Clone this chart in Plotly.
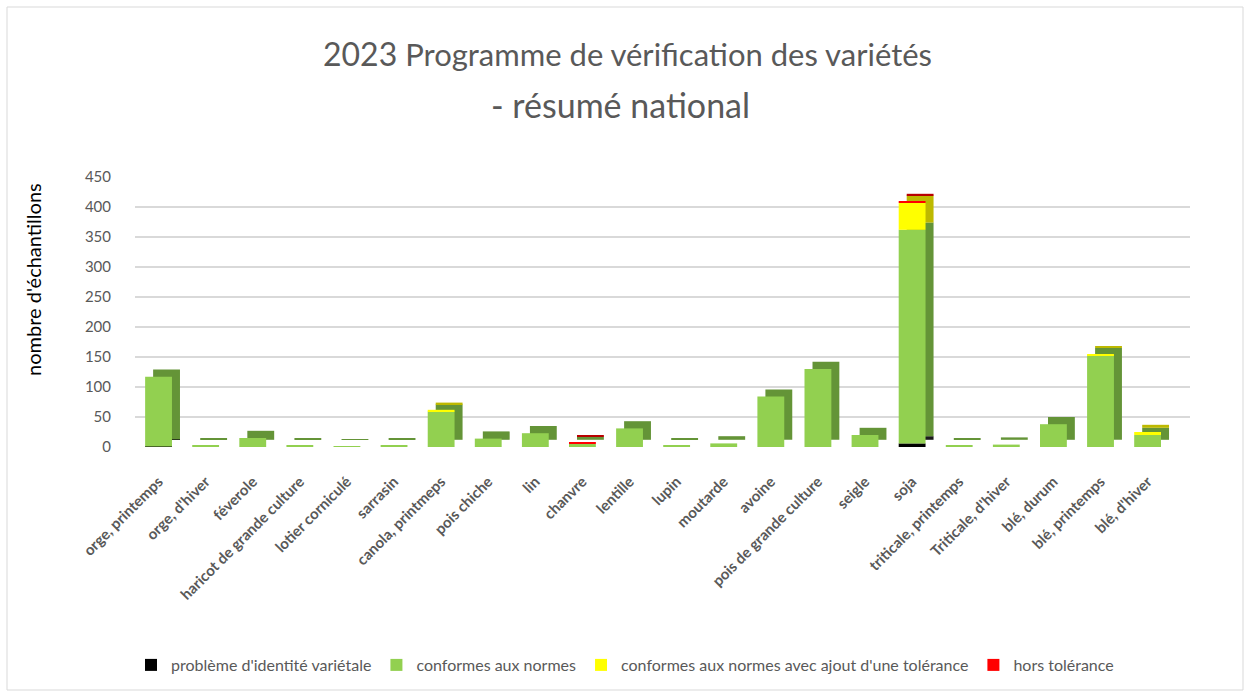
import plotly.graph_objects as go
import numpy as np

categories = ["orge, printemps", "orge, d'hiver", "féverole", "haricot de grande culture",
              "lotier corniculé", "sarrasin", "canola, printmeps", "pois chiche", "lin",
              "chanvre", "lentille", "lupin", "moutarde", "avoine", "pois de grande culture",
              "seigle", "soja", "triticale, printemps", "Triticale, d'hiver", "blé, durum",
              "blé, printemps", "blé, d'hiver"]
identite = [1, 0, 0, 0, 0, 0, 0, 0, 0, 0, 0, 0, 0, 0, 0, 0, 6, 0, 0, 0, 0, 0]
conformes = [116, 3, 15, 2, 1, 2, 59, 14, 23, 5, 31, 2, 6, 84, 130, 20, 356, 2, 4, 38, 153, 20]
tolerance = [0, 0, 0, 0, 0, 0, 3, 0, 0, 0, 0, 0, 0, 0, 0, 0, 45, 0, 0, 0, 2, 5]
hors = [0, 0, 0, 0, 0, 0, 0, 0, 0, 3, 0, 0, 0, 0, 0, 0, 3, 0, 0, 0, 0, 0]

series = [
    ("problème d'identité variétale", identite, "#000000", "#1a1a1a"),
    ("conformes aux normes", conformes, "#92D050", "#649437"),
    ("conformes aux normes avec ajout d'une tolérance", tolerance, "#FFFF00", "#BDB900"),
    ("hors tolérance", hors, "#FF0000", "#B80000"),
]

W = 0.57
DX = 0.17
DEPTH = 12

fig = go.Figure()
bases = []
cum = np.zeros(len(categories))
for name, vals, c, dc in series:
    bases.append(cum.copy())
    cum = cum + np.array(vals)

# depth (side/top faces)
for (name, vals, c, dc), b in zip(series, bases):
    fig.add_trace(go.Bar(x=categories, y=vals, base=b + DEPTH, width=W, offset=-W / 2 + DX,
                         marker=dict(color=dc, line=dict(width=0)), showlegend=False,
                         hoverinfo="skip"))
# front faces
for (name, vals, c, dc), b in zip(series, bases):
    fig.add_trace(go.Bar(x=categories, y=vals, base=b, width=W, offset=-W / 2, name=name,
                         marker=dict(color=c, line=dict(width=0))))

font = "Lato, 'Open Sans', sans-serif"
fig.update_layout(
    width=1250, height=692,
    barmode="overlay",
    paper_bgcolor="white", plot_bgcolor="white",
    margin=dict(l=135, r=60, t=177, b=245, autoexpand=False),
    title=dict(text="<span style='font-size:32px'>2023</span> Programme de vérification des variétés",
               x=627.5 / 1250, xref="container", xanchor="center",
               yref="container", y=1 - 55 / 692, yanchor="middle",
               font=dict(family=font, size=31, color="#595959")),
    annotations=[
        dict(text="- résumé national", xref="paper", yref="paper",
             x=(620 - 135) / 1055, y=(447 - 104) / 270, xanchor="center", yanchor="middle",
             showarrow=False, font=dict(family=font, size=34, color="#595959")),
        dict(text="nombre d'échantillons", xref="paper", yref="paper", textangle=-90,
             x=(33 - 135) / 1055, y=(447 - 280) / 270, xanchor="center", yanchor="middle",
             showarrow=False, font=dict(family=font, size=20, color="#000000")),
    ],
    font=dict(family=font, color="#595959"),
    xaxis=dict(type="category", range=[-0.5, 21.9], tickangle=-45,
               tickfont=dict(family=font, size=15, color="#595959", weight="bold"),
               ticklabelstandoff=22,
               showgrid=False, showline=False, ticks=""),
    yaxis=dict(range=[0, 450], dtick=50, gridcolor="#d9d9d9", gridwidth=2,
               zeroline=False, showline=False,
               tickfont=dict(family=font, size=15, color="#595959"),
               ticklabelstandoff=23),
    legend=dict(orientation="h", x=625 / 1250, xref="container", xanchor="center",
                yref="container", y=1 - 665 / 692, yanchor="middle",
                font=dict(family=font, size=16, color="#595959")),
    shapes=[dict(type="rect", xref="paper", yref="paper",
                 x0=(7 - 135) / 1055, x1=(1243 - 135) / 1055,
                 y0=(447 - 690) / 270, y1=(447 - 7) / 270,
                 line=dict(color="#d9d9d9", width=1), layer="below")],
)

fig.write_html("out.html", config={"displayModeBar": False},
               post_script="document.body.style.margin='0';")
